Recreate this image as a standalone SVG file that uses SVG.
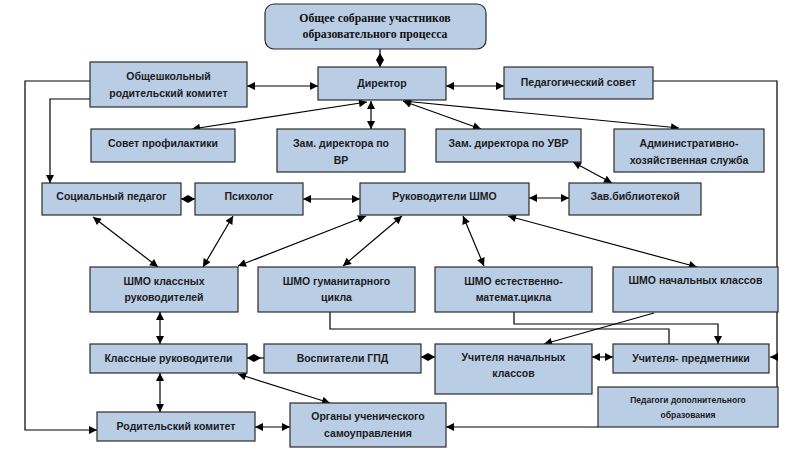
<svg xmlns="http://www.w3.org/2000/svg" width="796" height="456" viewBox="0 0 796 456">
<style>
.box{fill:#b9cde5;stroke:#2b2b2b;stroke-width:1.2}
.t{font-family:"Liberation Sans",Arial,sans-serif;font-size:10.5px;font-weight:bold;fill:#1c1c1c;text-anchor:middle}
.s{font-family:"Liberation Serif","Times New Roman",serif;font-size:11.8px;font-weight:bold;fill:#111;text-anchor:middle}
.sm{font-size:8.5px}
.c{fill:none;stroke:#000;stroke-width:1.2}
.a2{marker-start:url(#arr);marker-end:url(#arr)}
.a1{marker-end:url(#arr)}
.d{marker-end:url(#dia)}
</style>
<defs>
<marker id="arr" viewBox="0 0 10 10" refX="10" refY="5" markerWidth="10" markerHeight="8" orient="auto-start-reverse" markerUnits="userSpaceOnUse"><path d="M0,0 L10,5 L0,10 z" fill="#000"/></marker>
<marker id="dia" viewBox="0 0 14 8" refX="14" refY="4" markerWidth="14" markerHeight="8" orient="auto" markerUnits="userSpaceOnUse"><path d="M0,4 L7,0 L14,4 L7,8 z" fill="#000"/></marker>
</defs>
<rect width="796" height="456" fill="#fff"/>
<g id="connectors">
<path class="c d" d="M380,49 V67"/>
<path class="c a2" d="M247,86 H318"/>
<path class="c a2" d="M446,86 H504"/>
<path class="c a1" d="M653,81 H777 V427 M777,357 H770"/>
<path class="c a1" d="M90,81 H25 V430 H97"/>
<path class="c a1" d="M90,99 H50 V183"/>
<path class="c a2" d="M192,129 L367,102"/>
<path class="c a2" d="M371,101 V129"/>
<path class="c a2" d="M403,101 L481,129"/>
<path class="c a2" d="M403,101 L679,128"/>
<path class="c a2" d="M573,162 L612,183"/>
<path class="c a2" d="M529,198 H569"/>
<path class="c d" d="M195,199 H181"/>
<path class="c a2" d="M303,199 H360"/>
<path class="c a2" d="M93,217 L158,267"/>
<path class="c a2" d="M233,216 L203,267"/>
<path class="c a2" d="M366,216 L238,266"/>
<path class="c a2" d="M402,216 L343,266"/>
<path class="c a2" d="M463,216 L484,266"/>
<path class="c a2" d="M508,216 L697,267"/>
<path class="c a2" d="M160,312 V344"/>
<path class="c a2" d="M160,373 V412"/>
<path class="c a2" d="M238,374 L330,403"/>
<path class="c a2" d="M255,427 H290"/>
<path class="c d" d="M264,358 H247"/>
<path class="c d" d="M435,357 H421"/>
<path class="c a2" d="M592,357 H613"/>
<path class="c" d="M330,312 V329 H669 V344"/>
<path class="c a1" d="M514,312 V324 H718 V344"/>
<path class="c a1" d="M654,313 L544,344"/>
<path class="c a1" d="M598,427 H446"/>
</g>
<g id="n-sobranie"><rect class="box" x="265" y="4" width="221" height="45" rx="9"/><text class="s" x="375" y="22">Общее собрание участников</text><text class="s" x="375" y="38">образовательного процесса</text></g>
<g id="n-director"><rect class="box" x="318" y="67" width="128" height="33"/><text class="t" x="382" y="87">Директор</text></g>
<g id="n-ork"><rect class="box" x="90" y="62" width="157" height="45"/><text class="t" x="168.5" y="80">Общешкольный</text><text class="t" x="168.5" y="97">родительский комитет</text></g>
<g id="n-pedsovet"><rect class="box" x="504" y="67" width="149" height="32"/><text class="t" x="578.5" y="86">Педагогический совет</text></g>
<g id="n-sovet"><rect class="box" x="91" y="129" width="144" height="33"/><text class="t" x="163" y="147">Совет профилактики</text></g>
<g id="n-zamvr"><rect class="box" x="277" y="129" width="128" height="43"/><text class="t" x="341" y="147">Зам. директора по</text><text class="t" x="341" y="164">ВР</text></g>
<g id="n-zamuvr"><rect class="box" x="436" y="129" width="145" height="33"/><text class="t" x="508.5" y="147">Зам. директора по УВР</text></g>
<g id="n-admin"><rect class="box" x="614" y="129" width="150" height="43"/><text class="t" x="689" y="147">Административно-</text><text class="t" x="689" y="164">хозяйственная служба</text></g>
<g id="n-socped"><rect class="box" x="42" y="183" width="139" height="32"/><text class="t" x="111.5" y="200">Социальный педагог</text></g>
<g id="n-psiholog"><rect class="box" x="195" y="183" width="108" height="32"/><text class="t" x="249" y="200">Психолог</text></g>
<g id="n-rukshmo"><rect class="box" x="360" y="183" width="169" height="32"/><text class="t" x="444.5" y="200">Руководители ШМО</text></g>
<g id="n-biblio"><rect class="box" x="569" y="183" width="132" height="32"/><text class="t" x="635" y="200">Зав.библиотекой</text></g>
<g id="n-shmokl"><rect class="box" x="90" y="267" width="148" height="45"/><text class="t" x="164" y="285">ШМО классных</text><text class="t" x="164" y="301">руководителей</text></g>
<g id="n-shmogum"><rect class="box" x="258" y="267" width="157" height="45"/><text class="t" x="336.5" y="285">ШМО гуманитарного</text><text class="t" x="336.5" y="301">цикла</text></g>
<g id="n-shmoest"><rect class="box" x="435" y="267" width="157" height="45"/><text class="t" x="513.5" y="285">ШМО естественно-</text><text class="t" x="513.5" y="301">математ.цикла</text></g>
<g id="n-shmonach"><rect class="box" x="613" y="267" width="165" height="45"/><text class="t" x="695.5" y="284">ШМО начальных классов</text></g>
<g id="n-klruk"><rect class="box" x="90" y="344" width="157" height="29"/><text class="t" x="168.5" y="362">Классные руководители</text></g>
<g id="n-gpd"><rect class="box" x="264" y="344" width="157" height="29"/><text class="t" x="342.5" y="362">Воспитатели ГПД</text></g>
<g id="n-uchnach"><rect class="box" x="435" y="344" width="157" height="50"/><text class="t" x="513.5" y="361">Учителя начальных</text><text class="t" x="513.5" y="377">классов</text></g>
<g id="n-uchpred"><rect class="box" x="613" y="344" width="156" height="29"/><text class="t" x="691" y="362">Учителя- предметники</text></g>
<g id="n-peddop"><rect class="box" x="598" y="387" width="180" height="40"/><text class="t sm" x="688" y="403">Педагоги дополнительного</text><text class="t sm" x="688" y="418">образования</text></g>
<g id="n-rodkom"><rect class="box" x="97" y="412" width="158" height="29"/><text class="t" x="176" y="430">Родительский комитет</text></g>
<g id="n-organy"><rect class="box" x="290" y="403" width="156" height="44"/><text class="t" x="368" y="420">Органы ученического</text><text class="t" x="368" y="437">самоуправления</text></g>
</svg>
